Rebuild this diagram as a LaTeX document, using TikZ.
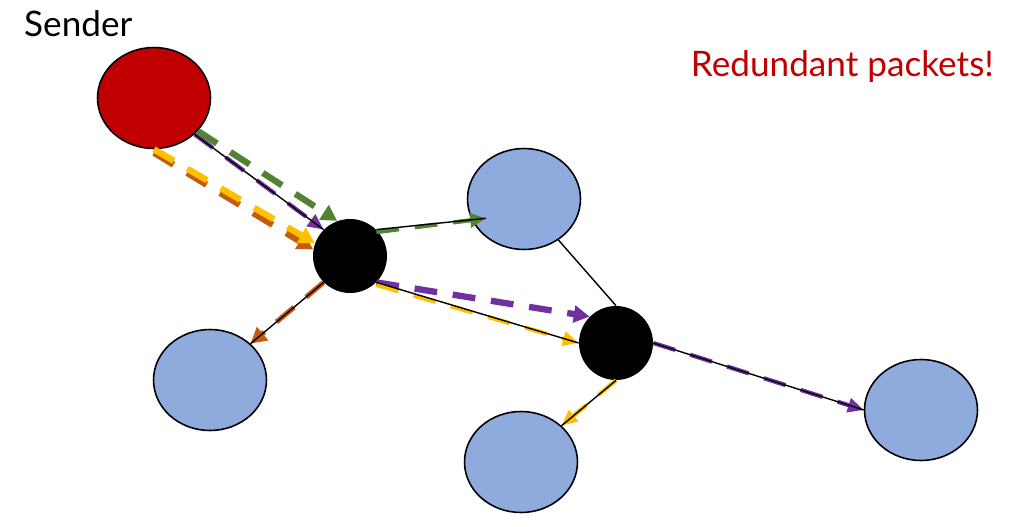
\documentclass[tikz,border=0pt]{standalone}
\usepackage{fontspec}
\setmainfont{Lato}
\usetikzlibrary{arrows.meta,shapes.geometric}

\definecolor{sendred}{RGB}{192,0,0}
\definecolor{hostblue}{RGB}{143,170,220}
\definecolor{pktpurple}{RGB}{112,48,160}
\definecolor{pktgreen}{RGB}{84,130,53}
\definecolor{pktyellow}{RGB}{255,192,0}
\definecolor{pktorange}{RGB}{197,90,17}

\begin{document}
\begin{tikzpicture}[x=0.02cm,y=-0.02cm,
    host/.style={ellipse,draw,line width=0.9pt,fill=hostblue,minimum width=2.26cm,minimum height=2.02cm,inner sep=0pt},
    router/.style={circle,fill=black,minimum size=1.48cm,inner sep=0pt},
    link/.style={line width=0.8pt},
    pkt/.style={line width=3.6pt,dash pattern=on 13pt off 9pt,-{Triangle[length=9pt,width=9.5pt]}},
    pktthin/.style={pkt,line width=2.4pt,-{Triangle[length=9pt,width=8pt]}}]
    \useasboundingbox (0,0) rectangle (1017,527);

    % hosts and routers
    \node[host,fill=sendred] (snd) at (154,98) {};
    \node[router] (r1) at (350,256) {};
    \node[router] (r2) at (616,343) {};
    \node[host] (bt) at (524,199) {};
    \node[host] (bl) at (210,380) {};
    \node[host] (bb) at (521,462) {};
    \node[host] (br) at (921,410) {};

    \node[anchor=base west,font=\fontsize{20}{24}\selectfont] (sendlbl) at (18,37) {Sender};
    \node[anchor=base east,font=\fontsize{20}{24}\selectfont,text=sendred] (redlbl) at (1000,77) {Redundant packets!};

    % packets
    \draw[pkt,pktorange] ([yshift=-0.07cm]snd.south) -- (r1.170);
    \draw[pkt,pktyellow] (snd.south) -- (r1.160);
    \draw[pktthin,pktpurple] (snd.south east) -- (r1.north west);
    \draw[pkt,pktgreen] (snd.-37) -- (r1.110);

    \draw[pktthin,pktgreen] ([yshift=-0.05cm]r1.north east) -- ([xshift=0.3cm]bt.200);
    \draw[pkt,pktpurple] (r1.south east) -- (r2.north west);
    \draw[pktthin,pktyellow] ([yshift=-0.05cm]r1.south east) -- (r2.west);
    \draw[pkt,line width=2.9pt,pktorange] (r1.south west) -- (bl.north east);

    \draw[pktthin,pktpurple] (r2.east) -- (br.west);
    \draw[pktthin,pktyellow] (r2.south) -- (bb.north east);

    % links
    \draw[link] (snd.south east) -- (r1.north west);
    \draw[link] (r1.north east) -- ([xshift=0.3cm]bt.200);
    \draw[link] (r1.south east) -- (r2.west);
    \draw[link] (r1.south west) -- (bl.north east);
    \draw[link] (bt.-50) -- (r2.north);
    \draw[link] (r2.south) -- (bb.north east);
    \draw[link] (r2.east) -- (br.west);
\end{tikzpicture}
\end{document}
